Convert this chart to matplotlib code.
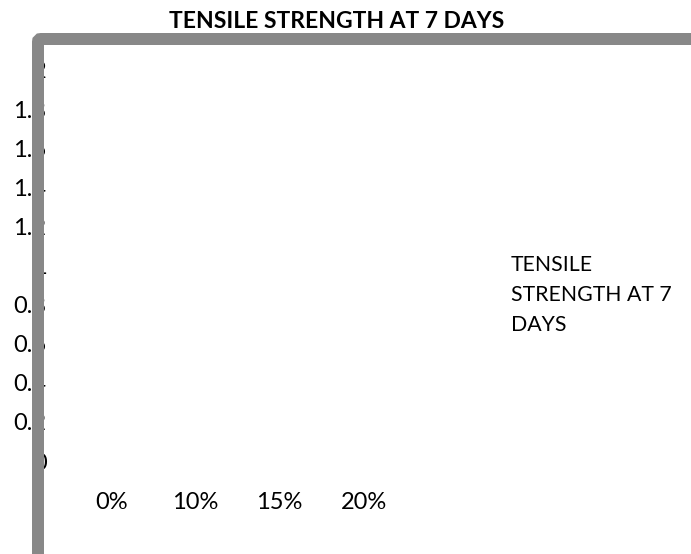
import matplotlib
matplotlib.use("Agg")
import matplotlib.pyplot as plt
from matplotlib.patches import FancyBboxPatch
from matplotlib.transforms import IdentityTransform

plt.rcParams['font.family'] = ['Lato', 'DejaVu Sans']

# data
categories = ["0%", "10%", "15%", "20%"]
series_name = "TENSILE STRENGTH AT 7 DAYS"
# no bars are visible in the chart
strength = [0, 0, 0, 0]
y_ticks = [0, 0.2, 0.4, 0.6, 0.8, 1, 1.2, 1.4, 1.6, 1.8, 2]

W, H = 691, 554
fig = plt.figure(figsize=(W / 100, H / 100), dpi=100)
ax = fig.add_axes([69 / W, (H - 461) / H, 337 / W, 391 / H])

x = range(len(categories))
ax.bar(x, strength, width=0.6, color='#4472c4', linewidth=0, label=series_name)
ax.set_xlim(-0.5, len(categories) - 0.5)
ax.set_ylim(0, 2)
ax.set_xticks(list(x))
ax.set_xticklabels(categories)
ax.set_yticks(y_ticks)
ax.set_yticklabels(["%g" % v for v in y_ticks])
ax.tick_params(axis='y', length=0, pad=16.2, labelsize=17)
ax.tick_params(axis='x', length=0, pad=22.5, labelsize=17)
for s in ax.spines.values():
    s.set_visible(False)

fig.text(337 / W, 1 - 22 / H, series_name, ha='center', va='center',
         fontsize=16.5, fontweight='bold')

# legend (text only)
fig.text(511 / W, 1 - 255 / H, "TENSILE\nSTRENGTH AT 7\nDAYS", ha='left', va='top',
         fontsize=15.3, linespacing=1.63)

# thick rounded chart border, mostly off the canvas
border = FancyBboxPatch((38, -60), W + 100, (H - 39) + 60,
                        boxstyle="round,pad=0,rounding_size=3",
                        transform=IdentityTransform(), facecolor='none',
                        edgecolor='#888888', linewidth=12 * 0.72, zorder=10)
fig.add_artist(border)

fig.savefig("out.png", dpi=100)
